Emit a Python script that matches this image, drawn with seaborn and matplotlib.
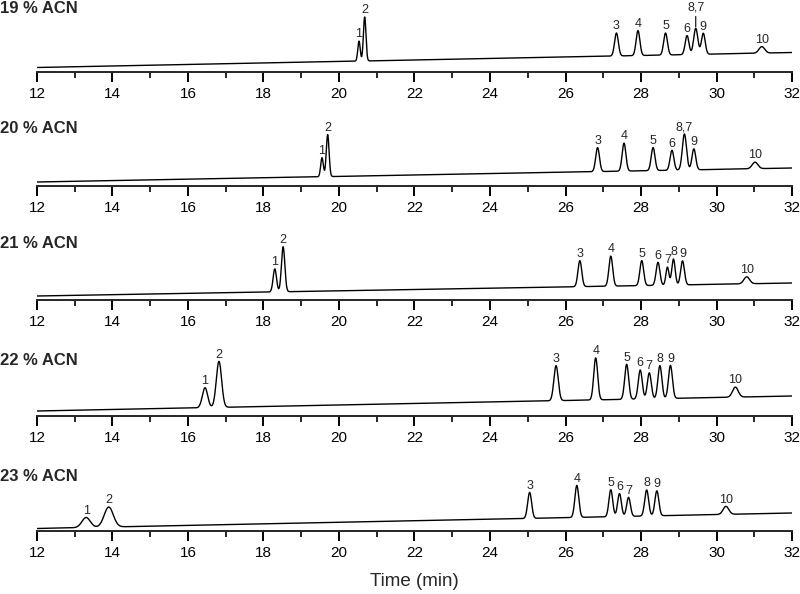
import numpy as np
import pandas as pd
import matplotlib
matplotlib.use("Agg")
import matplotlib.pyplot as plt
from matplotlib.ticker import MultipleLocator
import seaborn as sns

# peak retention times (min), apparent heights, widths and labels for each trace
rt_19 = [20.53, 20.68, 27.35, 27.92, 28.65, 29.22, 29.45, 29.65, 31.2]
h_19 = [20, 44, 23, 25, 22, 19, 26, 21, 6.5]
w_19 = [0.032, 0.034, 0.05, 0.05, 0.05, 0.05, 0.055, 0.05, 0.075]
lab_19 = ["1", "2", "3", "4", "5", "6", "8,7", "9", "10"]
base_19 = [4.5, 19.5]

rt_20 = [19.55, 19.7, 26.85, 27.55, 28.32, 28.82, 29.15, 29.4, 31.02]
h_20 = [19, 42, 24, 28, 23, 20, 36, 21, 6.5]
w_20 = [0.035, 0.037, 0.05, 0.05, 0.05, 0.05, 0.055, 0.05, 0.075]
lab_20 = ["1", "2", "3", "4", "5", "6", "8,7", "9", "10"]
base_20 = [4.0, 18.0]

rt_21 = [18.3, 18.52, 26.38, 27.2, 28.02, 28.45, 28.7, 28.86, 29.1, 30.8]
h_21 = [23, 45, 26, 30, 25, 23, 18, 26, 24, 7]
w_21 = [0.045, 0.045, 0.05, 0.05, 0.05, 0.05, 0.04, 0.045, 0.05, 0.075]
lab_21 = ["1", "2", "3", "4", "5", "6", "7", "8", "9", "10"]
base_21 = [4.0, 17.0]

rt_22 = [16.45, 16.82, 25.75, 26.8, 27.62, 27.98, 28.22, 28.5, 28.78, 30.5]
h_22 = [20, 46, 35, 42, 35, 29, 26, 33, 33, 10]
w_22 = [0.07, 0.07, 0.058, 0.052, 0.052, 0.052, 0.052, 0.052, 0.052, 0.075]
lab_22 = ["1", "2", "3", "4", "5", "6", "7", "8", "9", "10"]
base_22 = [5.0, 20.0]

rt_23 = [13.3, 13.9, 25.05, 26.3, 27.2, 27.43, 27.67, 28.15, 28.42, 30.25]
h_23 = [10, 20, 26, 32, 27, 23, 19, 26, 25, 8]
w_23 = [0.11, 0.12, 0.052, 0.052, 0.05, 0.05, 0.05, 0.052, 0.052, 0.075]
lab_23 = ["1", "2", "3", "4", "5", "6", "7", "8", "9", "10"]
base_23 = [2.5, 18.0]

titles = ["19 % ACN", "20 % ACN", "21 % ACN", "22 % ACN", "23 % ACN"]

panels = [
    (rt_19, h_19, w_19, lab_19, base_19),
    (rt_20, h_20, w_20, lab_20, base_20),
    (rt_21, h_21, w_21, lab_21, base_21),
    (rt_22, h_22, w_22, lab_22, base_22),
    (rt_23, h_23, w_23, lab_23, base_23),
]

# layout in pixels (figure is 800 x 594)
W, H = 800, 594
AXIS_Y = [72, 186, 300, 416, 531]
TITLE_Y = [13, 133, 248, 365, 481]
X0, X1 = 37, 792
AX_H = 60

sns.set_style("ticks")
plt.rcParams["font.family"] = ["Liberation Sans", "DejaVu Sans"]

time = np.linspace(12, 32, 4001)


def trace(rt, h, w, base):
    y = base[0] + (base[1] - base[0]) * (time - 12) / 20.0
    for r, hh, ww in zip(rt, h, w):
        y = y + hh * np.exp(-0.5 * ((time - r) / ww) ** 2)
    return y


fig = plt.figure(figsize=(W / 100, H / 100), dpi=100)

for i, (rt, h, w, lab, base) in enumerate(panels):
    ax = fig.add_axes([X0 / W, 1 - AXIS_Y[i] / H, (X1 - X0) / W, AX_H / H])
    ax.patch.set_visible(False)
    sig = trace(rt, h, w, base)
    df = pd.DataFrame({"time": time, "signal": sig})
    sns.lineplot(data=df, x="time", y="signal", ax=ax, color="black",
                 linewidth=1.0, estimator=None, sort=False)
    ax.set_xlim(12, 32)
    ax.set_ylim(0, AX_H)
    ax.set_xlabel("")
    ax.set_ylabel("")
    ax.set_yticks([])
    for s in ["top", "left", "right"]:
        ax.spines[s].set_visible(False)
    ax.spines["bottom"].set_linewidth(1.4)
    ax.xaxis.set_major_locator(MultipleLocator(2))
    ax.xaxis.set_minor_locator(MultipleLocator(1))
    ax.tick_params(axis="x", which="major", direction="out", length=7.5,
                   width=1.4, labelsize=11, pad=3, colors="black")
    ax.tick_params(axis="x", which="minor", direction="out", length=4,
                   width=1.4)

    for r, l in zip(rt, lab):
        top = np.interp(r, time, sig)
        if l == "8,7" and i == 0:
            ax.annotate(l, xy=(r, top), xytext=(0, 11), textcoords="offset points",
                        ha="center", va="bottom", fontsize=9, annotation_clip=False,
                        arrowprops=dict(arrowstyle="-", color="black", lw=0.8,
                                        shrinkA=0, shrinkB=1))
        else:
            ax.annotate(l, xy=(r, top), xytext=(0, 0.5), textcoords="offset points",
                        ha="center", va="bottom", fontsize=9, annotation_clip=False)

    fig.text(0, 1 - TITLE_Y[i] / H, titles[i], ha="left", va="baseline",
             fontsize=12, fontweight="bold")

fig.text((X0 + X1) / 2 / W, 1 - 581 / H, "Time (min)", ha="center", va="center",
         fontsize=13.5)

fig.savefig("out.png", dpi=100)
